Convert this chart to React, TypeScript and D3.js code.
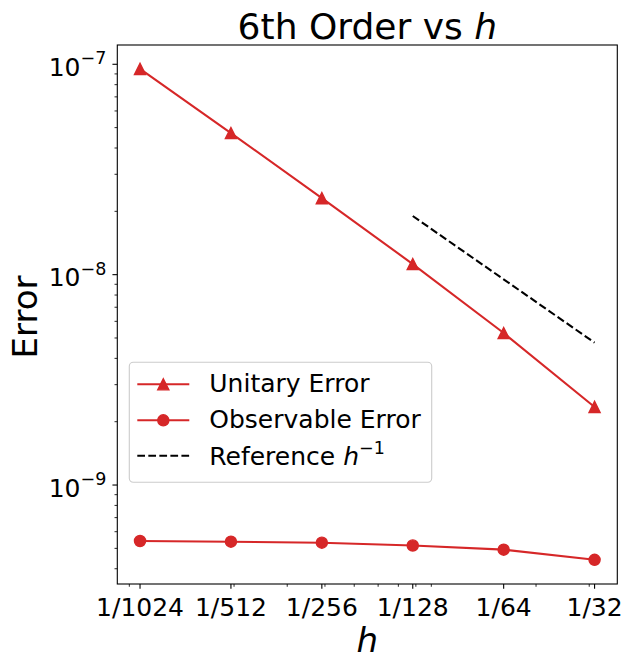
import React from 'react';
import * as d3 from 'd3';

// ---- data ----
const hValues = [1 / 1024, 1 / 512, 1 / 256, 1 / 128, 1 / 64, 1 / 32];
const xTickLabels = ['1/1024', '1/512', '1/256', '1/128', '1/64', '1/32'];
const unitaryError = [9.5e-8, 4.71e-8, 2.31e-8, 1.123e-8, 5.28e-9, 2.35e-9];
const observableError = [5.42e-10, 5.38e-10, 5.32e-10, 5.16e-10, 4.93e-10, 4.41e-10];
const referenceH = [1 / 128, 1 / 32];
const referenceError = [1.9e-8, 4.75e-9];
const yMajorTicks = [1e-9, 1e-8, 1e-7];
const yTickExponents = ['−9', '−8', '−7'];
const legendLabels = ['Unitary Error', 'Observable Error', 'Reference '];

const W = 632;
const H = 666;
const M = { left: 117.3, right: 617.3, top: 45, bottom: 584 };
const RED = '#d62728';
const FONT = 'DejaVu Sans';

export default function App() {
  const x = d3
    .scaleLog()
    .domain([hValues[0] / Math.pow(2, 0.25), hValues[hValues.length - 1] * Math.pow(2, 0.25)])
    .range([M.left, M.right]);
  const y = d3.scaleLog().domain([3.385e-10, 1.235e-7]).range([M.bottom, M.top]);

  const isOne = (v: number) => {
    const m = v / Math.pow(10, Math.floor(Math.log10(v) + 1e-9));
    return Math.abs(m - 1) < 1e-6;
  };
  const xMinor = x.ticks().filter((v) => !isOne(v));
  const yMinor = y.ticks().filter((v) => !isOne(v));

  const line = d3
    .line<[number, number]>()
    .x((d) => x(d[0]))
    .y((d) => y(d[1]));

  const unitaryPts: [number, number][] = hValues.map((h, i) => [h, unitaryError[i]]);
  const obsPts: [number, number][] = hValues.map((h, i) => [h, observableError[i]]);
  const refPts: [number, number][] = referenceH.map((h, i) => [h, referenceError[i]]);

  const ms = 5.56;
  const tri = (cx: number, cy: number) =>
    `M${cx},${cy - ms}L${cx - ms},${cy + ms}L${cx + ms},${cy + ms}Z`;

  const lw = 2.08;
  const dash = '7.7,3.33';

  const lgX = 129.3;
  const lgY = 362.3;
  const lgRows = [384.3, 420.3, 455.7];

  return (
    <svg
      width={W}
      height={H}
      style={{ position: 'absolute', left: 0, top: 0, background: '#fff' }}
      fontFamily={FONT}
    >
      <rect x={0} y={0} width={W} height={H} fill="#fff" />

      {/* title */}
      <text x={(M.left + M.right) / 2} y={38.5} fontSize={36} textAnchor="middle" fill="#000">
        6th Order vs <tspan fontStyle="italic">h</tspan>
      </text>

      {/* series */}
      <path d={line(unitaryPts) || ''} fill="none" stroke={RED} strokeWidth={lw} />
      {unitaryPts.map((d, i) => (
        <path
          key={'u' + i}
          d={tri(x(d[0]), y(d[1]))}
          fill={RED}
          stroke={RED}
          strokeWidth={1.39}
        />
      ))}
      <path d={line(obsPts) || ''} fill="none" stroke={RED} strokeWidth={lw} />
      {obsPts.map((d, i) => (
        <circle
          key={'o' + i}
          cx={x(d[0])}
          cy={y(d[1])}
          r={ms}
          fill={RED}
          stroke={RED}
          strokeWidth={1.39}
        />
      ))}
      <path
        d={line(refPts) || ''}
        fill="none"
        stroke="#000"
        strokeWidth={lw}
        strokeDasharray={dash}
      />

      {/* axes frame */}
      <rect
        x={M.left}
        y={M.top}
        width={M.right - M.left}
        height={M.bottom - M.top}
        fill="none"
        stroke="#000"
        strokeWidth={1.1}
      />

      {/* x ticks */}
      {xMinor.map((v, i) => (
        <line
          key={'xm' + i}
          x1={x(v)}
          x2={x(v)}
          y1={M.bottom}
          y2={M.bottom + 2.78}
          stroke="#000"
          strokeWidth={0.84}
        />
      ))}
      {hValues.map((v, i) => (
        <g key={'xt' + i}>
          <line x1={x(v)} x2={x(v)} y1={M.bottom} y2={M.bottom + 4.86} stroke="#000" strokeWidth={1.1} />
          <text x={x(v)} y={616} fontSize={25} textAnchor="middle" fill="#000">
            {xTickLabels[i]}
          </text>
        </g>
      ))}

      {/* y ticks */}
      {yMinor.map((v, i) => (
        <line
          key={'ym' + i}
          x1={M.left - 2.78}
          x2={M.left}
          y1={y(v)}
          y2={y(v)}
          stroke="#000"
          strokeWidth={0.84}
        />
      ))}
      {yMajorTicks.map((v, i) => (
        <g key={'yt' + i}>
          <line x1={M.left - 4.86} x2={M.left} y1={y(v)} y2={y(v)} stroke="#000" strokeWidth={1.1} />
          <text x={M.left - 11} y={y(v) + 11.5} fontSize={25} textAnchor="end" fill="#000">
            10
            <tspan fontSize={17.5} dy={-11.5}>
              {yTickExponents[i]}
            </tspan>
          </text>
        </g>
      ))}

      {/* axis labels */}
      <text x={(M.left + M.right) / 2} y={652} fontSize={34} fontStyle="italic" textAnchor="middle" fill="#000">
        h
      </text>
      <text
        transform={`translate(37.3,${(M.top + M.bottom) / 2 + 2.5}) rotate(-90)`}
        fontSize={34}
        textAnchor="middle"
        fill="#000"
      >
        Error
      </text>

      {/* legend */}
      <rect
        x={lgX}
        y={lgY}
        width={302.4}
        height={120}
        rx={4}
        ry={4}
        fill="#fff"
        fillOpacity={0.8}
        stroke="#cccccc"
        strokeWidth={1.1}
      />
      <line x1={137.3} x2={189.3} y1={lgRows[0]} y2={lgRows[0]} stroke={RED} strokeWidth={lw} />
      <path d={tri(163.3, lgRows[0])} fill={RED} stroke={RED} strokeWidth={1.39} />
      <text x={209.3} y={lgRows[0] + 8} fontSize={25} fill="#000">
        {legendLabels[0]}
      </text>
      <line x1={137.3} x2={189.3} y1={lgRows[1]} y2={lgRows[1]} stroke={RED} strokeWidth={lw} />
      <circle cx={163.3} cy={lgRows[1]} r={ms} fill={RED} stroke={RED} strokeWidth={1.39} />
      <text x={209.3} y={lgRows[1] + 8} fontSize={25} fill="#000">
        {legendLabels[1]}
      </text>
      <line
        x1={137.3}
        x2={189.3}
        y1={lgRows[2]}
        y2={lgRows[2]}
        stroke="#000"
        strokeWidth={lw}
        strokeDasharray={dash}
      />
      <text x={209.3} y={465} fontSize={25} fill="#000">
        {legendLabels[2]}
        <tspan fontStyle="italic">h</tspan>
        <tspan fontSize={17.5} dy={-11.5}>
          −1
        </tspan>
      </text>
    </svg>
  );
}
